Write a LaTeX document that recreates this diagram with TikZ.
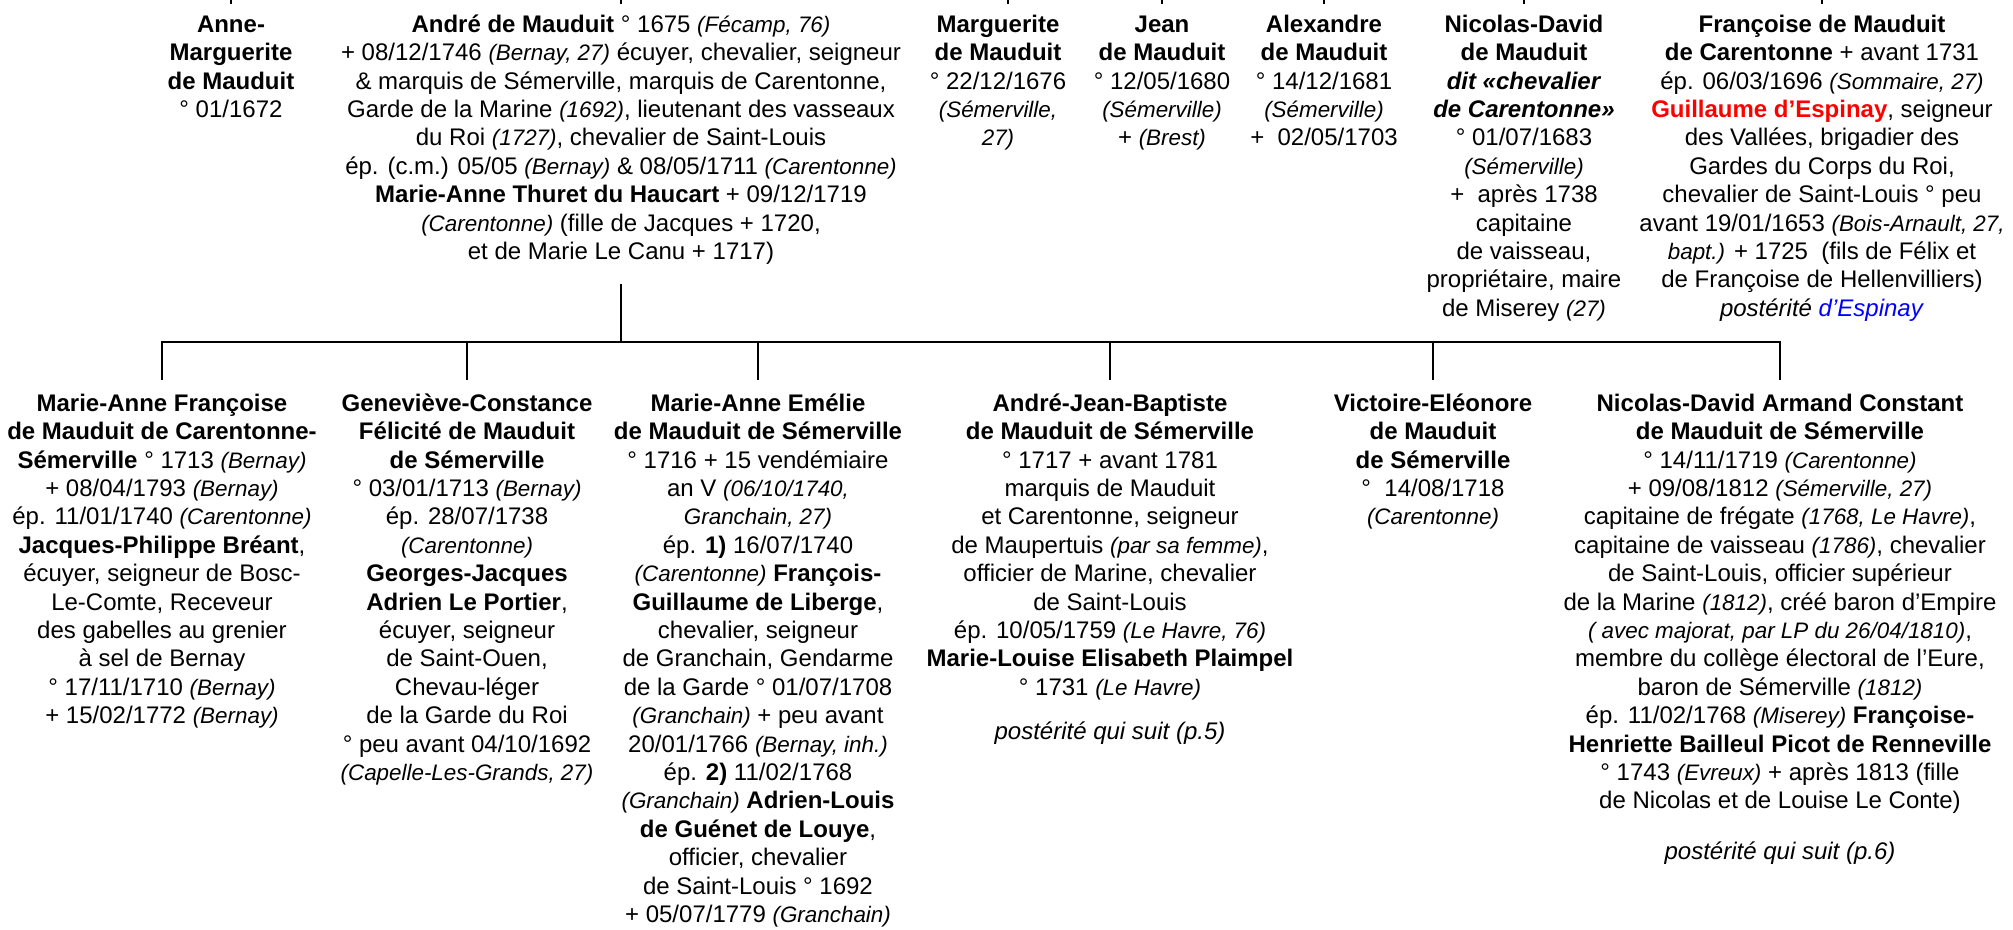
\documentclass[tikz,border=0pt]{standalone}
\usepackage{fontspec}
\setmainfont{Liberation Sans}
\definecolor{espred}{RGB}{255,0,0}
\definecolor{espblue}{RGB}{0,0,255}
\newcommand\plc[1]{{\itshape\fontsize{11.2}{14.2}\selectfont #1}}
\tikzset{
  person/.style={anchor=north, inner sep=0pt, align=center, font=\fontsize{12}{14.2}\selectfont},
  conn/.style={draw=black, line width=1.35pt, line join=miter}
}
\begin{document}
\begin{tikzpicture}[x=0.5pt,y=-0.5pt]
\useasboundingbox[fill=white] (0,0) rectangle (2013,930);
\coordinate (edge) at (0,0);
\coordinate (bar) at (621,342);
% top row
\node[person] (p1) at (231,12) {\strut\textbf{Anne-}\\ \textbf{Marguerite}\\ \textbf{de Mauduit}\\ ° 01/1672};
\node[person] (p2) at (621,12) {\strut\textbf{André de Mauduit} ° 1675 \plc{(Fécamp, 76)}\\
+ 08/12/1746 \plc{(Bernay, 27)} écuyer, chevalier, seigneur\\
\& marquis de Sémerville, marquis de Carentonne,\\
Garde de la Marine \plc{(1692)}, lieutenant des vasseaux\\
du Roi \plc{(1727)}, chevalier de Saint-Louis\\
ép. (c.m.) 05/05 \plc{(Bernay)} \& 08/05/1711 \plc{(Carentonne)}\\
\textbf{Marie-Anne Thuret du Haucart} + 09/12/1719\\
\plc{(Carentonne)} (fille de Jacques + 1720,\\
et de Marie Le Canu + 1717)};
\node[person] (p3) at (998,12) {\strut\textbf{Marguerite}\\ \textbf{de Mauduit}\\ ° 22/12/1676\\ \plc{(Sémerville,}\\ \plc{27)}};
\node[person] (p4) at (1162,12) {\strut\textbf{Jean}\\ \textbf{de Mauduit}\\ ° 12/05/1680\\ \plc{(Sémerville)}\\ + \plc{(Brest)}};
\node[person] (p5) at (1324,12) {\strut\textbf{Alexandre}\\ \textbf{de Mauduit}\\ ° 14/12/1681\\ \plc{(Sémerville)}\\ +\ \ 02/05/1703};
\node[person] (p6) at (1524,12) {\strut\textbf{Nicolas-David}\\ \textbf{de Mauduit}\\ \textbf{\itshape dit «chevalier}\\ \textbf{\itshape de Carentonne»}\\ ° 01/07/1683\\ \plc{(Sémerville)}\\ +\ \ après 1738\\ capitaine\\ de vaisseau,\\ propriétaire, maire\\ de Miserey \plc{(27)}};
\node[person] (p7) at (1822,12) {\strut\textbf{Françoise de Mauduit}\\
\textbf{de Carentonne} + avant 1731\\
ép. 06/03/1696 \plc{(Sommaire, 27)}\\
\textcolor{espred}{\textbf{Guillaume d’Espinay}}, seigneur\\
des Vallées, brigadier des\\
Gardes du Corps du Roi,\\
chevalier de Saint-Louis ° peu\\
avant 19/01/1653 \plc{(Bois-Arnault, 27,}\\
\plc{bapt.)} + 1725\ \ (fils de Félix et\\
de Françoise de Hellenvilliers)\\
\textit{postérité} \textcolor{espblue}{\textit{d’Espinay}}};
% bottom row
\node[person] (c1) at (162,391) {\strut\textbf{Marie-Anne Françoise}\\
\textbf{de Mauduit de Carentonne-}\\
\textbf{Sémerville} ° 1713 \plc{(Bernay)}\\
+ 08/04/1793 \plc{(Bernay)}\\
ép. 11/01/1740 \plc{(Carentonne)}\\
\textbf{Jacques-Philippe Bréant},\\
écuyer, seigneur de Bosc-\\
Le-Comte, Receveur\\
des gabelles au grenier\\
à sel de Bernay\\
° 17/11/1710 \plc{(Bernay)}\\
+ 15/02/1772 \plc{(Bernay)}};
\node[person] (c2) at (467,391) {\strut\textbf{Geneviève-Constance}\\
\textbf{Félicité de Mauduit}\\
\textbf{de Sémerville}\\
° 03/01/1713 \plc{(Bernay)}\\
ép. 28/07/1738\\
\plc{(Carentonne)}\\
\textbf{Georges-Jacques}\\
\textbf{Adrien Le Portier},\\
écuyer, seigneur\\
de Saint-Ouen,\\
Chevau-léger\\
de la Garde du Roi\\
° peu avant 04/10/1692\\
\plc{(Capelle-Les-Grands, 27)}};
\node[person] (c3) at (758,391) {\strut\textbf{Marie-Anne Emélie}\\
\textbf{de Mauduit de Sémerville}\\
° 1716 + 15 vendémiaire\\
an V \plc{(06/10/1740,}\\
\plc{Granchain, 27)}\\
ép. \textbf{1)} 16/07/1740\\
\plc{(Carentonne)} \textbf{François-}\\
\textbf{Guillaume de Liberge},\\
chevalier, seigneur\\
de Granchain, Gendarme\\
de la Garde ° 01/07/1708\\
\plc{(Granchain)} + peu avant\\
20/01/1766 \plc{(Bernay, inh.)}\\
ép. \textbf{2)} 11/02/1768\\
\plc{(Granchain)} \textbf{Adrien-Louis}\\
\textbf{de Guénet de Louye},\\
officier, chevalier\\
de Saint-Louis ° 1692\\
+ 05/07/1779 \plc{(Granchain)}};
\node[person] (c4) at (1110,391) {\strut\textbf{André-Jean-Baptiste}\\
\textbf{de Mauduit de Sémerville}\\
° 1717 + avant 1781\\
marquis de Mauduit\\
et Carentonne, seigneur\\
de Maupertuis \plc{(par sa femme)},\\
officier de Marine, chevalier\\
de Saint-Louis\\
ép. 10/05/1759 \plc{(Le Havre, 76)}\\
\textbf{Marie-Louise Elisabeth Plaimpel}\\
° 1731 \plc{(Le Havre)}\\[8pt]
\textit{postérité qui suit (p.5)}};
\node[person] (c5) at (1433,391) {\strut\textbf{Victoire-Eléonore}\\ \textbf{de Mauduit}\\ \textbf{de Sémerville}\\ °\ \ 14/08/1718\\ \plc{(Carentonne)}};
\node[person] (c6) at (1780,391) {\strut\textbf{Nicolas-David Armand Constant}\\
\textbf{de Mauduit de Sémerville}\\
° 14/11/1719 \plc{(Carentonne)}\\
+ 09/08/1812 \plc{(Sémerville, 27)}\\
capitaine de frégate \plc{(1768, Le Havre)},\\
capitaine de vaisseau \plc{(1786)}, chevalier\\
de Saint-Louis, officier supérieur\\
de la Marine \plc{(1812)}, créé baron d’Empire\\
\plc{( avec majorat, par LP du 26/04/1810)},\\
membre du collège électoral de l'Eure,\\
baron de Sémerville \plc{(1812)}\\
ép. 11/02/1768 \plc{(Miserey)} \textbf{Françoise-}\\
\textbf{Henriette Bailleul Picot de Renneville}\\
° 1743 \plc{(Evreux)} + après 1813 (fille\\
de Nicolas et de Louise Le Conte)\\[11pt]
\textit{postérité qui suit (p.6)}};
% connectors
\foreach \p in {p1,p2,p4,p5,p6,p7}
  \draw[conn] (\p.north |- edge) -- ++(0,4);
\draw[conn] ([xshift=5pt]p3.north |- edge) -- ++(0,4);
\draw[conn] ([yshift=-9.5pt]p2.south) -- (p2.south |- bar);
\draw[conn] ([yshift=5.5pt]c1.north) -- (c1.north |- bar) -- (c6.north |- bar) -- ([yshift=5.5pt]c6.north);
\foreach \c in {c2,c3,c4,c5}
  \draw[conn] (\c.north |- bar) -- ([yshift=5.5pt]\c.north);
\end{tikzpicture}
\end{document}
